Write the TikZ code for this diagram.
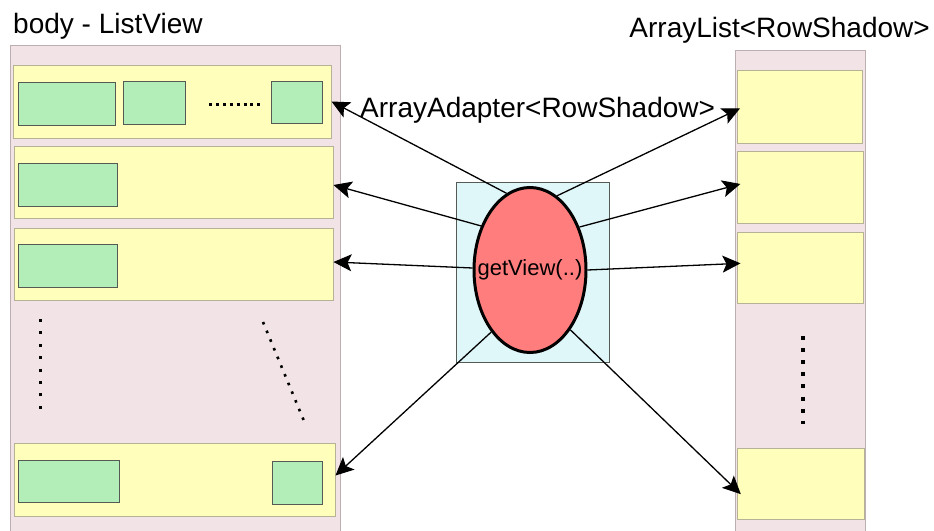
\documentclass[tikz,border=0pt]{standalone}
\usepackage{fontspec}
\setmainfont{Liberation Sans}
\usetikzlibrary{arrows.meta,shapes.geometric}
\definecolor{panelpink}{HTML}{F1E3E6}
\definecolor{panelline}{HTML}{BCAEB1}
\definecolor{rowyellow}{HTML}{FFFFBB}
\definecolor{rowline}{HTML}{B5B295}
\definecolor{cellgreen}{HTML}{B3EDB8}
\definecolor{cellline}{HTML}{555A55}
\definecolor{adaptcyan}{HTML}{E0F7FA}
\definecolor{viewred}{HTML}{FF7D7D}
\tikzset{
  panel/.style={rectangle, draw=panelline, fill=panelpink, line width=1pt, inner sep=0pt},
  rowbox/.style={rectangle, draw=rowline, fill=rowyellow, line width=1pt, inner sep=0pt},
  cellbox/.style={rectangle, draw=cellline, fill=cellgreen, line width=1pt, inner sep=0pt},
  adaptbox/.style={rectangle, draw=cellline, fill=adaptcyan, line width=1pt, inner sep=0pt},
  viewoval/.style={ellipse, draw=black, fill=viewred, line width=3pt, inner sep=0pt},
  conn/.style={draw=black, line width=1.3pt,
    -{Stealth[length=18pt,width=17pt,inset=4pt,line width=1pt,fill=black]}},
  dotrow/.style={line width=3pt, dash pattern=on 3pt off #1},
  bigtext/.style={font=\fontsize{28}{33}\selectfont, inner sep=0pt},
}
\begin{document}
\begin{tikzpicture}[x=1pt,y=-1pt]
\useasboundingbox (0,0) rectangle (934,530);

% ListView column
\node[panel, minimum width=330pt, minimum height=490pt] (lv) at (175,290) {};
\node[rowbox, minimum width=318pt, minimum height=73pt] (r1) at (172,101.5) {};
\node[rowbox, minimum width=319pt, minimum height=72pt] (r2) at (173.5,182) {};
\node[rowbox, minimum width=319pt, minimum height=72pt] (r3) at (173.5,264) {};
\node[rowbox, minimum width=321pt, minimum height=73pt] (r4) at (174.5,479.5) {};

\node[cellbox, minimum width=97pt, minimum height=43pt] (g11) at (66.5,103.5) {};
\node[cellbox, minimum width=62pt, minimum height=43pt] (g12) at (154,102.5) {};
\node[cellbox, minimum width=51pt, minimum height=42pt] (g13) at (296.5,102) {};
\node[cellbox, minimum width=99pt, minimum height=43pt] (g2) at (67.5,184.5) {};
\node[cellbox, minimum width=99pt, minimum height=43pt] (g3) at (67.5,265.5) {};
\node[cellbox, minimum width=101pt, minimum height=42pt] (g41) at (68.5,481) {};
\node[cellbox, minimum width=50pt, minimum height=43pt] (g42) at (297,482.5) {};

\coordinate (d1a) at (209,104);
\coordinate (d1b) at (260,104);
\draw[dotrow=3.9pt] (d1a) -- (d1b);
\coordinate (d2a) at (40,319);
\coordinate (d2b) at (40,409);
\draw[dotrow=9.4pt] (d2a) -- (d2b);
\coordinate (d3a) at (263,322);
\coordinate (d3b) at (304,421);
\draw[line width=2.6pt, dash pattern=on 2.6pt off 6.8pt] (d3a) -- (d3b);

% ArrayList column
\node[panel, minimum width=130pt, minimum height=485pt] (al) at (800,292.5) {};
\node[rowbox, minimum width=125pt, minimum height=73pt] (c1) at (799.5,106.5) {};
\node[rowbox, minimum width=126pt, minimum height=72pt] (c2) at (800,187) {};
\node[rowbox, minimum width=126pt, minimum height=71pt] (c3) at (800,267.5) {};
\node[rowbox, minimum width=127pt, minimum height=71pt] (c4) at (800.5,483.5) {};
\coordinate (d4a) at (803,336);
\coordinate (d4b) at (803,424);
\draw[line width=4pt, dash pattern=on 4pt off 8.1pt] (d4a) -- (d4b);

% adapter with its getView() oval
\node[adaptbox, minimum width=153pt, minimum height=180pt] (ad) at (532.5,272) {};
\node[viewoval, minimum width=112pt, minimum height=165pt] (gv) at (530,270) {};

% connectors
\draw[conn] (gv.107) -- (r1.east);
\draw[conn] (gv.138) -- ([yshift=-3pt]r2.east);
\draw[conn] (gv.178) -- ([yshift=2pt]r3.east);
\draw[conn] (gv.238) -- ([yshift=4pt]r4.east);
\draw[conn, shorten >=-4pt] (gv.70) -- ([yshift=-3.5pt]c1.west);
\draw[conn, shorten >=-4pt] (gv.41) -- ([yshift=2pt]c2.west);
\draw[conn, shorten >=-4pt] (gv.0) -- ([yshift=4pt]c3.west);
\draw[conn, shorten >=-6pt] (gv.304) -- ([yshift=-6.5pt]c4.west);

\node[font=\fontsize{22}{26}\selectfont, inner sep=0pt] (gvt) at (530,270) {getView(..)};

% labels
\node[bigtext, anchor=base west] (lvt) at (13,33) {body - ListView};
\node[bigtext, anchor=base east] (alt) at (930,37) {ArrayList<RowShadow>};
\node[bigtext, anchor=base west] (adt) at (360,117) {ArrayAdapter<RowShadow>};
\end{tikzpicture}
\end{document}
